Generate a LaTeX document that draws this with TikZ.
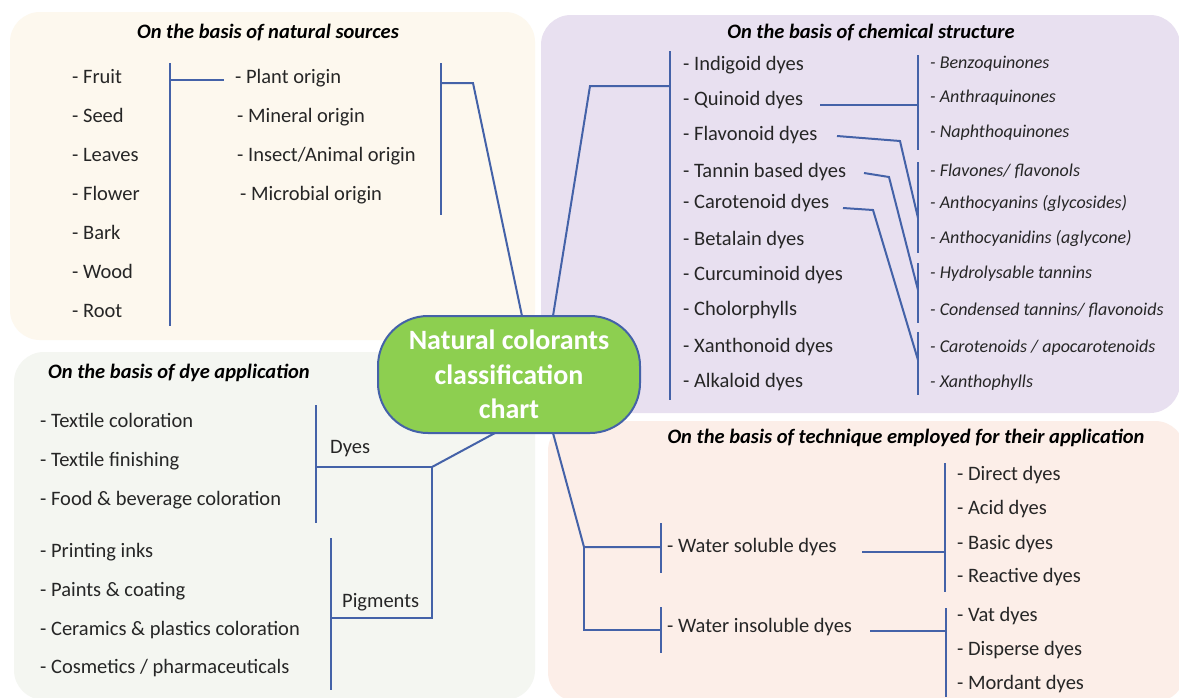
\documentclass[tikz,border=0pt]{standalone}
\usepackage{fontspec}
\setmainfont{Carlito}
\definecolor{cream}{RGB}{253,248,238}
\definecolor{lav}{RGB}{232,224,240}
\definecolor{sage}{RGB}{244,246,241}
\definecolor{peach}{RGB}{252,238,232}
\definecolor{leaf}{RGB}{141,207,80}
\definecolor{ln}{RGB}{68,98,168}
\definecolor{ink}{RGB}{38,38,38}
\begin{document}
\begin{tikzpicture}[x=1pt,y=-1pt,
  item/.style={anchor=base west, inner sep=0pt, font=\fontsize{20.5}{24}\selectfont, text=ink},
  sub/.style={anchor=base west, inner sep=0pt, font=\fontsize{18}{21}\selectfont\itshape, text=ink},
  ttl/.style={anchor=base, inner sep=0pt, font=\fontsize{20.5}{23}\selectfont\bfseries\itshape, text=black},
  conn/.style={draw=ln, line width=2pt},
  panel/.style={rounded corners=30pt}]
\useasboundingbox (0,0) rectangle (1179,697);
\fill[white] (0,0) rectangle (1179,697);
% panels
\fill[cream, panel] (10,12) rectangle (535,340);
\fill[lav, panel] (541,15) rectangle (1180,413);
\fill[sage, panel] (14,352) rectangle (535,700);
\fill[peach, panel] (548,421) rectangle (1185,702);

% ---------- natural sources ----------
\node[ttl] (t1) at (268,38) {On the basis of natural sources};
\node[item] (fruit) at (72,83) {- Fruit};
\node[item] (seed) at (72,122) {- Seed};
\node[item] (leaves) at (72,161) {- Leaves};
\node[item] (flower) at (72,200) {- Flower};
\node[item] (bark) at (72,239) {- Bark};
\node[item] (wood) at (72,278) {- Wood};
\node[item] (root) at (72,317) {- Root};
\node[item] (plant) at (235,83) {- Plant origin};
\node[item] (mineral) at (237,122) {- Mineral origin};
\node[item] (insect) at (237,161) {- Insect/Animal origin};
\node[item] (microbial) at (240,200) {- Microbial origin};
\coordinate (a1) at (170,63); \coordinate (a2) at (170,326);
\coordinate (a3) at (170,80); \coordinate (a4) at (224,80);
\coordinate (a5) at (441,63); \coordinate (a6) at (441,215);
\coordinate (a7) at (441,83); \coordinate (a8) at (473,83);
\coordinate (c1) at (522,316);
\draw[conn] (a1) -- (a2);
\draw[conn] (a3) -- (a4);
\draw[conn] (a5) -- (a6);
\draw[conn] (a7) -- (a8) -- (c1);

% ---------- chemical structure ----------
\node[ttl] (t2) at (871,38) {On the basis of chemical structure};
\node[item] (indigoid) at (683,70) {- Indigoid dyes};
\node[item] (quinoid) at (683,105) {- Quinoid dyes};
\node[item] (flavonoid) at (683,140) {- Flavonoid dyes};
\node[item] (tannin) at (683,177) {- Tannin based dyes};
\node[item] (carotenoid) at (683,208) {- Carotenoid dyes};
\node[item] (betalain) at (683,245) {- Betalain dyes};
\node[item] (curcuminoid) at (683,280) {- Curcuminoid dyes};
\node[item] (chloro) at (683,315) {- Cholorphylls};
\node[item] (xanthonoid) at (683,352) {- Xanthonoid dyes};
\node[item] (alkaloid) at (683,387) {- Alkaloid dyes};
\node[sub] (benzo) at (930,68) {- Benzoquinones};
\node[sub] (anthra) at (930,102) {- Anthraquinones};
\node[sub] (naphtho) at (930,137) {- Naphthoquinones};
\node[sub] (flavones) at (930,176) {- Flavones/ flavonols};
\node[sub] (anthocyanins) at (930,208) {- Anthocyanins (glycosides)};
\node[sub] (anthocyanidins) at (930,243) {- Anthocyanidins (aglycone)};
\node[sub] (hydro) at (930,278) {- Hydrolysable tannins};
\node[sub] (condensed) at (930,315) {- Condensed tannins/ flavonoids};
\node[sub] (carotenoids) at (930,352) {- Carotenoids / apocarotenoids};
\node[sub] (xantho) at (930,387) {- Xanthophylls};
\coordinate (c2) at (553,316);
\coordinate (b1) at (590,86); \coordinate (b2) at (670,86);
\coordinate (b3) at (670,51); \coordinate (b4) at (670,400);
\draw[conn] (c2) -- (b1) -- (b2);
\draw[conn] (b3) -- (b4);
\coordinate (q1) at (918,55); \coordinate (q2) at (918,150);
\coordinate (f1) at (918,162); \coordinate (f2) at (918,253);
\coordinate (h1) at (918,263); \coordinate (h2) at (918,323);
\coordinate (k1) at (918,332); \coordinate (k2) at (918,395);
\draw[conn] (q1) -- (q2);
\draw[conn] (f1) -- (f2);
\draw[conn] (h1) -- (h2);
\draw[conn] (k1) -- (k2);
\coordinate (qa) at (820,105); \coordinate (qb) at (918,105);
\draw[conn] (qa) -- (qb);
\coordinate (fa) at (837,136); \coordinate (fb) at (900,141); \coordinate (fc) at (918,218);
\draw[conn] (fa) -- (fb) -- (fc);
\coordinate (ta) at (864,173); \coordinate (tb) at (889,177); \coordinate (tc) at (918,290);
\draw[conn] (ta) -- (tb) -- (tc);
\coordinate (ka) at (843,208); \coordinate (kb) at (873,210); \coordinate (kc) at (918,360);
\draw[conn] (ka) -- (kb) -- (kc);

% ---------- dye application ----------
\node[ttl, anchor=base west] (t3) at (48,378) {On the basis of dye application};
\node[item] (textcol) at (40,427) {- Textile coloration};
\node[item] (textfin) at (40,466) {- Textile finishing};
\node[item] (food) at (40,505) {- Food \& beverage coloration};
\node[item] (printing) at (40,557) {- Printing inks};
\node[item] (paints) at (40,596) {- Paints \& coating};
\node[item] (ceramics) at (40,635) {- Ceramics \& plastics coloration};
\node[item] (cosmetics) at (40,673) {- Cosmetics / pharmaceuticals};
\node[item] (dyes) at (330,453) {Dyes};
\node[item] (pigments) at (342,607) {Pigments};
\coordinate (d1) at (316,405); \coordinate (d2) at (316,523);
\coordinate (d3) at (316,467); \coordinate (d4) at (432,467);
\coordinate (p1) at (331,538); \coordinate (p2) at (331,690);
\coordinate (p3) at (331,618); \coordinate (p4) at (432,618);
\coordinate (c3) at (495,433);
\draw[conn] (d1) -- (d2);
\draw[conn] (p1) -- (p2);
\draw[conn] (d3) -- (d4) -- (p4) -- (p3);
\draw[conn] (d4) -- (c3);

% ---------- technique ----------
\node[ttl] (t4) at (906,443) {On the basis of technique employed for their application};
\node[item] (soluble) at (667,552) {- Water soluble dyes};
\node[item] (insoluble) at (667,632) {- Water insoluble dyes};
\node[item] (direct) at (957,480) {- Direct dyes};
\node[item] (acid) at (957,514) {- Acid dyes};
\node[item] (basic) at (957,549) {- Basic dyes};
\node[item] (reactive) at (957,582) {- Reactive dyes};
\node[item] (vat) at (957,621) {- Vat dyes};
\node[item] (disperse) at (957,655) {- Disperse dyes};
\node[item] (mordant) at (957,689) {- Mordant dyes};
\coordinate (c4) at (553,433);
\coordinate (w1) at (584,547); \coordinate (w2) at (661,547);
\coordinate (w3) at (584,630); \coordinate (w4) at (661,630);
\draw[conn] (c4) -- (w1) -- (w2);
\draw[conn] (w1) -- (w3) -- (w4);
\coordinate (s1) at (661,523); \coordinate (s2) at (661,573);
\coordinate (s3) at (661,607); \coordinate (s4) at (661,653);
\draw[conn] (s1) -- (s2);
\draw[conn] (s3) -- (s4);
\coordinate (r1) at (862,552); \coordinate (r2) at (945,552);
\coordinate (r3) at (945,463); \coordinate (r4) at (945,592);
\draw[conn] (r1) -- (r2);
\draw[conn] (r3) -- (r4);
\coordinate (u1) at (870,631); \coordinate (u2) at (946,631);
\coordinate (u3) at (946,608); \coordinate (u4) at (946,697);
\draw[conn] (u1) -- (u2);
\draw[conn] (u3) -- (u4);

% ---------- centre ----------
\node[draw=ln, line width=2pt, fill=leaf, rounded corners=50pt,
      minimum width=262pt, minimum height=117pt, inner sep=0pt,
      text=white, align=center,
      font=\fontsize{28}{34.5}\selectfont\bfseries] (centre) at (509,374.5)
  {Natural colorants\\classification\\chart};
\end{tikzpicture}
\end{document}
